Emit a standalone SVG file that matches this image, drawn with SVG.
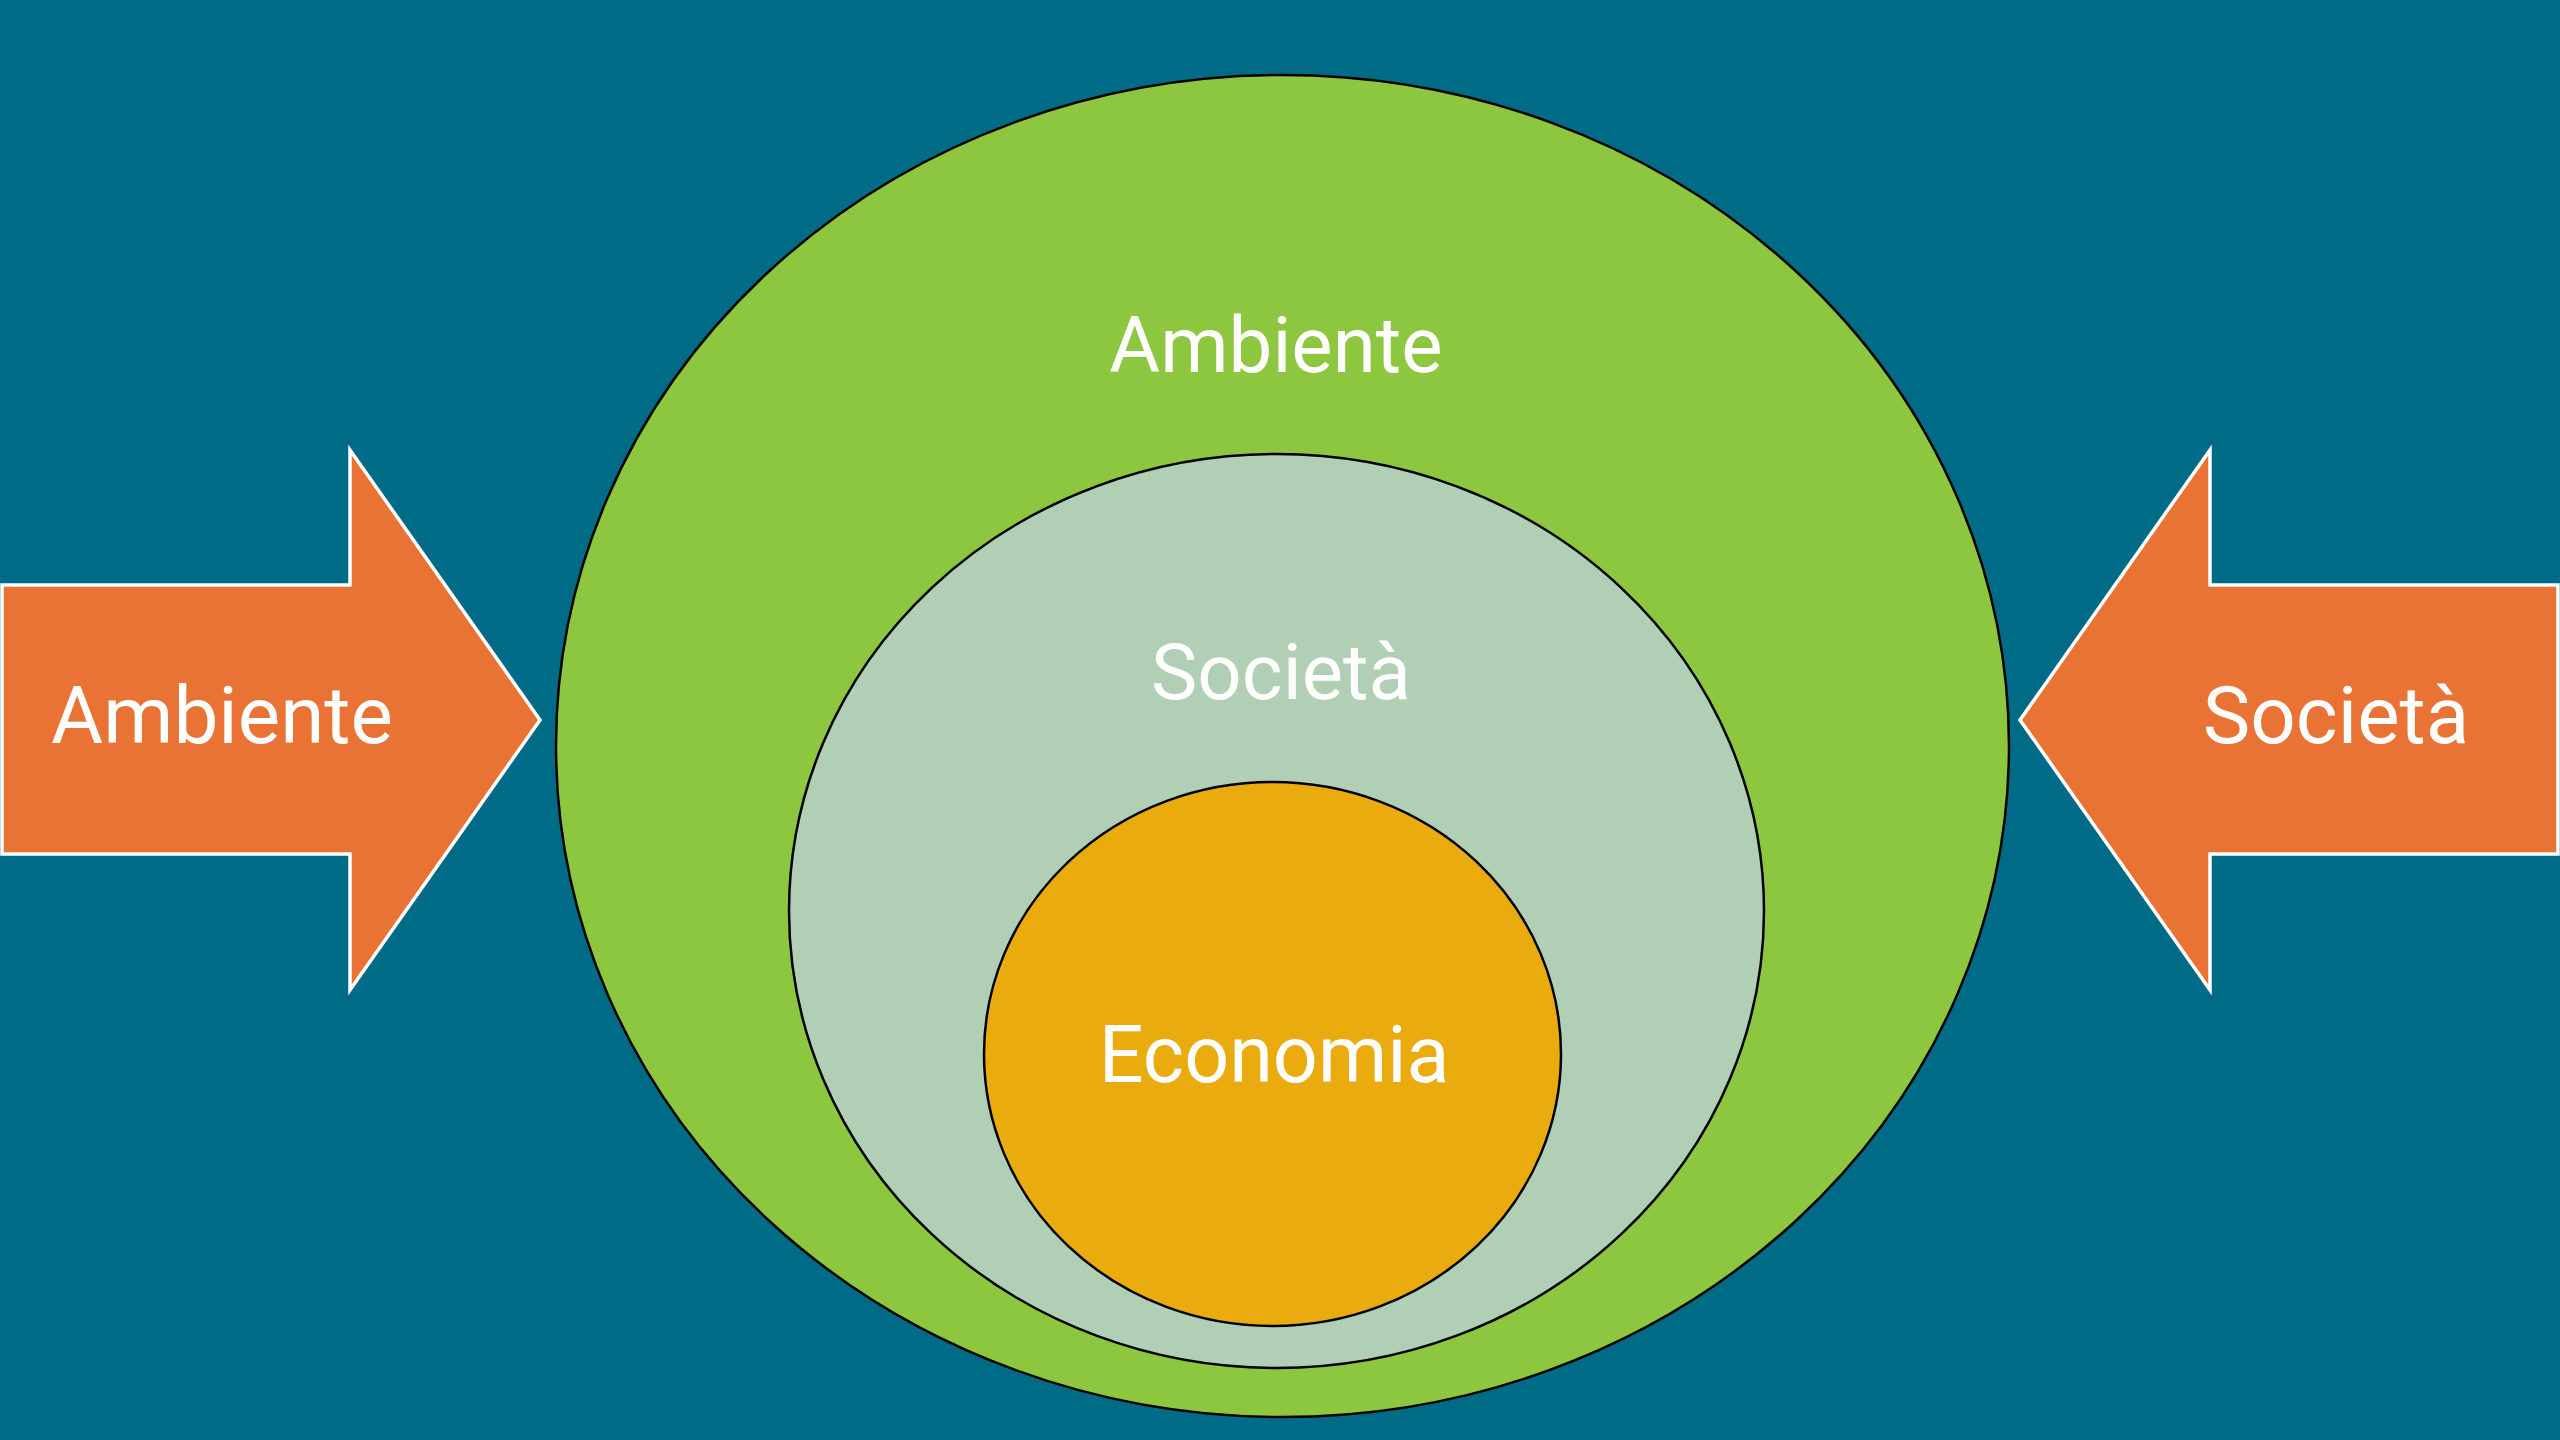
<svg xmlns="http://www.w3.org/2000/svg" width="2560" height="1440" viewBox="0 0 2560 1440">
<style>
.ring{stroke:#000;stroke-width:2.5}
.arrow{fill:#E97334;stroke:#FFFFFF;stroke-width:3.5;stroke-linejoin:miter}
.lbl{font-family:Roboto,"Liberation Sans",sans-serif;fill:#FFFFFF;text-anchor:middle}
</style>
<rect x="0" y="0" width="2560" height="1440" fill="#006B86"/>
<g id="ambiente-ellipse">
<ellipse class="ring" cx="1282.5" cy="746" rx="726.5" ry="671" fill="#8DC63F"/>
<text class="lbl" x="1276" y="372" font-size="78">Ambiente</text>
</g>
<g id="societa-ellipse">
<ellipse class="ring" cx="1276.5" cy="911" rx="487.5" ry="457" fill="#B0CFB4"/>
<text class="lbl" x="1281" y="699" font-size="78">Società</text>
</g>
<g id="economia-ellipse">
<ellipse class="ring" cx="1272.5" cy="1054" rx="288.5" ry="272" fill="#EAAB0F"/>
<text class="lbl" x="1274" y="1082" font-size="79">Economia</text>
</g>
<g id="connectors">
<g id="arrow-ambiente">
<polygon class="arrow" points="2,585 350,585 350,450 540,720 350,990 350,854 2,854"/>
<text class="lbl" x="222" y="743" font-size="80">Ambiente</text>
</g>
<g id="arrow-societa">
<polygon class="arrow" points="2558,585 2210,585 2210,450 2020,720 2210,990 2210,854 2558,854"/>
<text class="lbl" x="2336" y="743" font-size="80">Società</text>
</g>
</g>
</svg>
